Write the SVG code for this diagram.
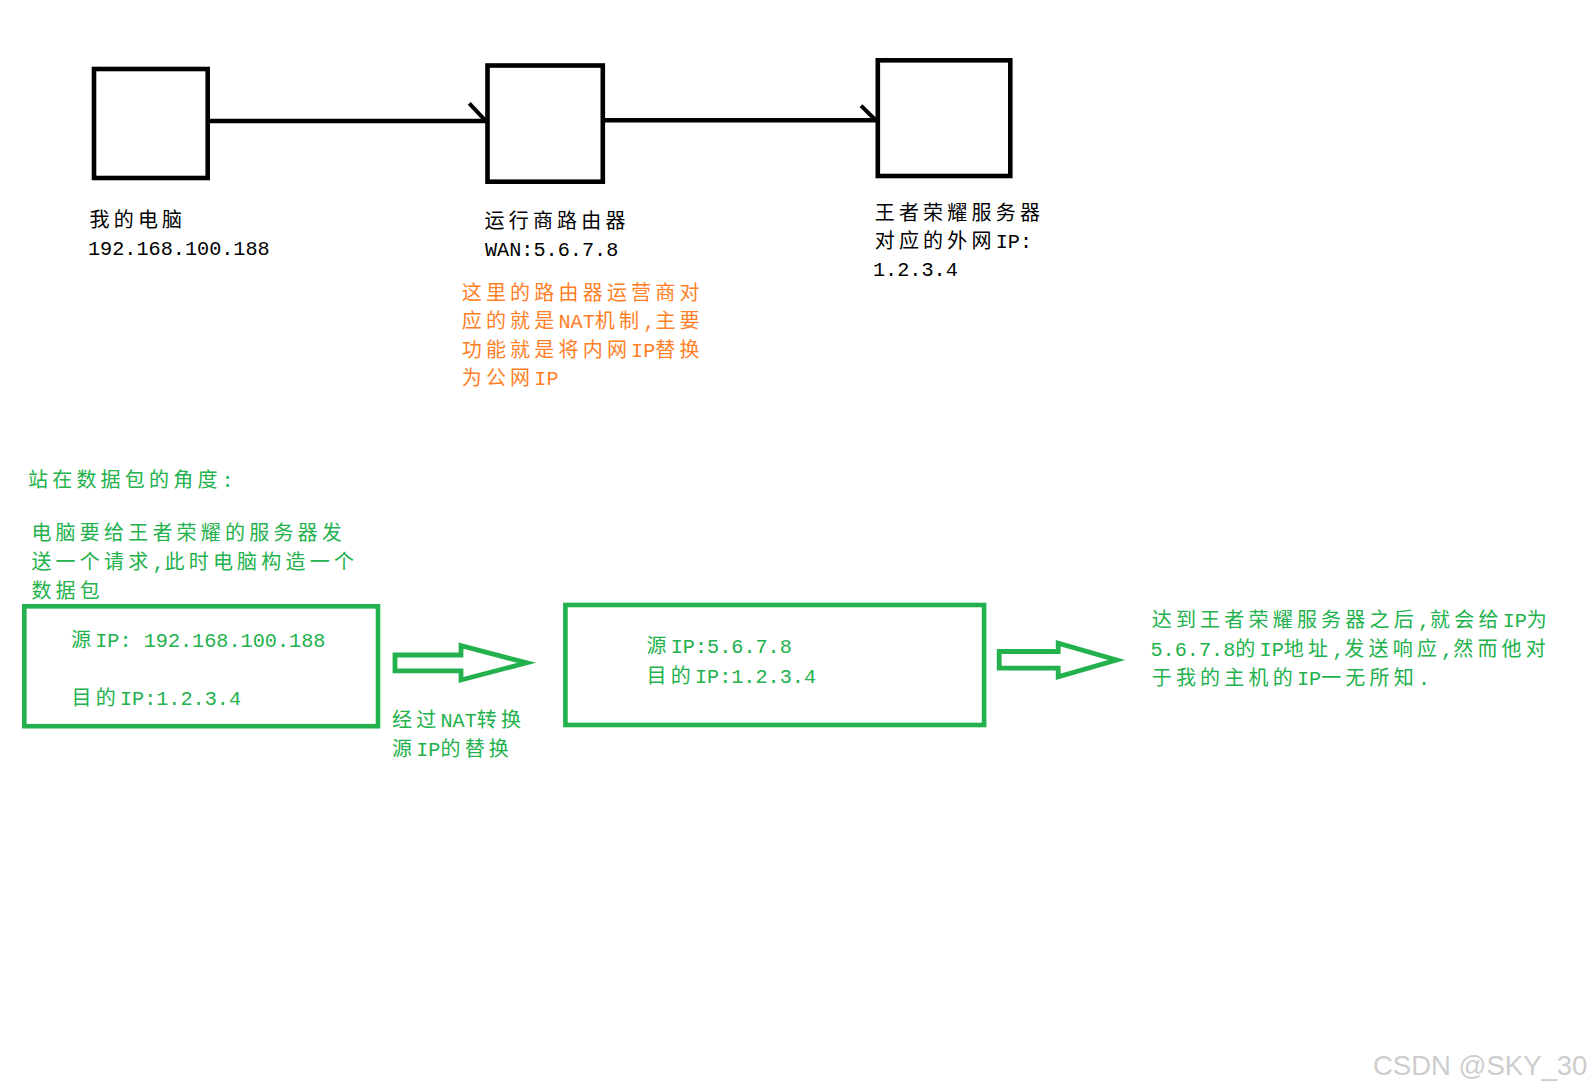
<svg xmlns="http://www.w3.org/2000/svg" width="1595" height="1092" viewBox="0 0 1595 1092">
<style>
.box{fill:none;stroke:#000;stroke-width:4.6}
.gbox{fill:none;stroke:#22B14C;stroke-width:4.6}
.line{stroke:#000;stroke-width:4.6;fill:none}
.tick{stroke:#000;stroke-width:4;fill:none}
.garrow{fill:none;stroke:#22B14C;stroke-width:4.8;stroke-linejoin:miter}
.k{font-family:"Noto Sans CJK SC","Noto Sans CJK JP",sans-serif;font-size:20px;letter-spacing:4.2px;fill:#000}
.m{font-family:"Liberation Mono","DejaVu Sans Mono",monospace;font-size:20.2px;letter-spacing:0}
.o{fill:#FF7F27}
.g{fill:#22B14C}
.wm{font-family:"Liberation Sans",Arial,sans-serif;font-size:27.5px;fill:#cdcdcd}
</style>
<rect width="1595" height="1092" fill="#fff"/>

<g id="connectors">
  <line class="line" x1="207.7" y1="121" x2="487.5" y2="121"/>
  <line class="tick" x1="469.3" y1="103.3" x2="485.5" y2="120.7"/>
  <line class="line" x1="602.8" y1="120.3" x2="877.8" y2="120.3"/>
  <line class="tick" x1="861" y1="105.7" x2="875.5" y2="120"/>
  <polygon class="garrow" points="395,655 461,655 461,645.7 526.5,662.8 461,680 461,670.8 395,670.8"/>
  <polygon class="garrow" points="999.2,651.5 1058.2,651.5 1058.2,643.3 1116.5,660 1058.2,676.7 1058.2,668.2 999.2,668.2"/>
</g>

<g id="node-pc">
  <rect class="box" x="94" y="69" width="113.7" height="109"/>
  <text class="k" x="89.5" y="226.5">我的电脑</text>
  <text class="k m" x="88" y="255">192.168.100.188</text>
</g>

<g id="node-router">
  <rect class="box" x="487.5" y="65.5" width="115.3" height="116.2"/>
  <text class="k" x="484.5" y="228">运行商路由器</text>
  <text class="k m" x="485" y="256">WAN:5.6.7.8</text>
</g>

<g id="node-server">
  <rect class="box" x="877.8" y="60.3" width="132.5" height="115.7"/>
  <text class="k" x="874.7" y="219.5">王者荣耀服务器</text>
  <text class="k" x="874.7" y="248">对应的外网<tspan class="m">IP:</tspan></text>
  <text class="k m" x="873" y="276">1.2.3.4</text>
</g>

<g id="note-nat">
  <text class="k o" x="461.7" y="299.5">这里的路由器运营商对</text>
  <text class="k o" x="461.7" y="328">应的就是<tspan class="m">NAT</tspan>机制<tspan class="m">,</tspan>主要</text>
  <text class="k o" x="461.7" y="356.8">功能就是将内网<tspan class="m">IP</tspan>替换</text>
  <text class="k o" x="461.7" y="385.3">为公网<tspan class="m">IP</tspan></text>
</g>

<g id="note-packet">
  <text class="k g" x="28" y="487.3">站在数据包的角度<tspan class="m">:</tspan></text>
  <text class="k g" x="31.4" y="539.7">电脑要给王者荣耀的服务器发</text>
  <text class="k g" x="31.4" y="568.5">送一个请求<tspan class="m">,</tspan>此时电脑构造一个</text>
  <text class="k g" x="31.4" y="597.5">数据包</text>
</g>

<g id="node-packet-1">
  <rect class="gbox" x="24.3" y="606.3" width="353.7" height="119.9"/>
  <text class="k g" x="71" y="646.5">源<tspan class="m">IP: 192.168.100.188</tspan></text>
  <text class="k g" x="71.5" y="705">目的<tspan class="m">IP:1.2.3.4</tspan></text>
</g>

<g id="label-nat">
  <text class="k g" x="392" y="727.3">经过<tspan class="m">NAT</tspan>转换</text>
  <text class="k g" x="392" y="756.3">源<tspan class="m">IP</tspan>的替换</text>
</g>

<g id="node-packet-2">
  <rect class="gbox" x="565.4" y="605" width="418.7" height="120"/>
  <text class="k g" x="646.5" y="653">源<tspan class="m">IP:5.6.7.8</tspan></text>
  <text class="k g" x="646.5" y="683">目的<tspan class="m">IP:1.2.3.4</tspan></text>
</g>

<g id="note-response">
  <text class="k g" x="1151.7" y="627.3">达到王者荣耀服务器之后<tspan class="m">,</tspan>就会给<tspan class="m">IP</tspan>为</text>
  <text class="k g" x="1150.5" y="656"><tspan class="m">5.6.7.8</tspan>的<tspan class="m">IP</tspan>地址<tspan class="m">,</tspan>发送响应<tspan class="m">,</tspan>然而他对</text>
  <text class="k g" x="1151.7" y="684.8">于我的主机的<tspan class="m">IP</tspan>一无所知<tspan class="m">.</tspan></text>
</g>

<text class="wm" x="1373" y="1075">CSDN @SKY_30</text>
</svg>
